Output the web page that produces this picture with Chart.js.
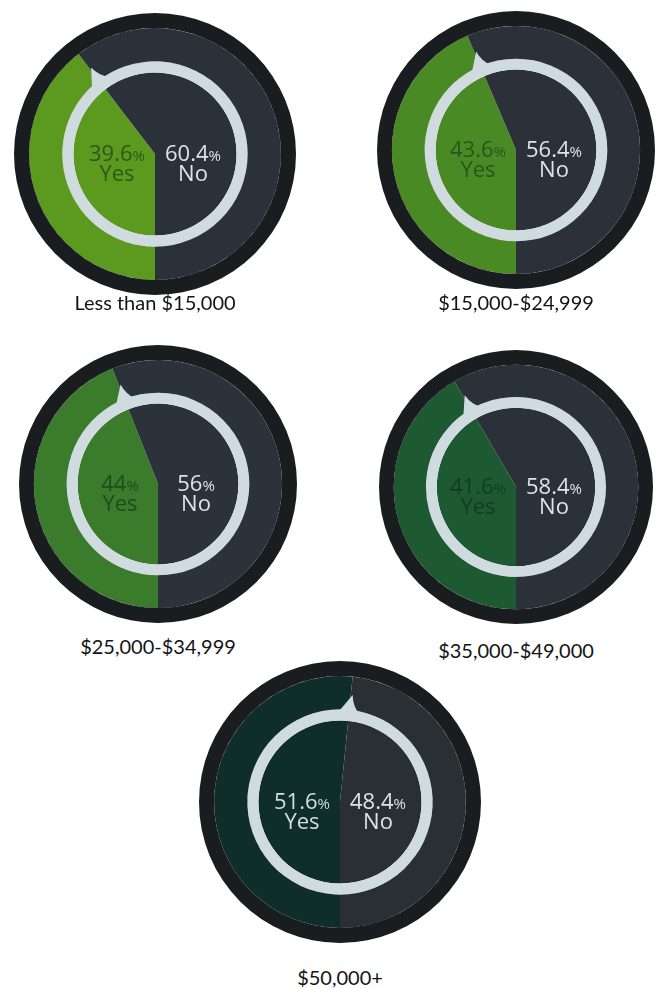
<!DOCTYPE html>
<html>
<head>
<meta charset="utf-8">
<script src="https://cdn.jsdelivr.net/npm/chart.js@4"></script>
<style>
  body { margin: 0; background: #fff; width: 663px; height: 988px; position: relative; overflow: hidden; }
  .pie { position: absolute; }
  .caption { position: absolute; width: 240px; margin-left: -120px; text-align: center;
             font-family: Lato, "Open Sans", sans-serif; font-size: 20px; color: #141414; line-height: 24px; }
</style>
</head>
<body>
<script>
// Survey answers by income bracket
const brackets = ['Less than $15,000', '$15,000-$24,999', '$25,000-$34,999', '$35,000-$49,000', '$50,000+'];
const yesShare = [39.6, 43.6, 44, 41.6, 51.6];
const noShare = [60.4, 56.4, 56, 58.4, 48.4];
const yesLabels = ['39.6', '43.6', '44', '41.6', '51.6'];
const noLabels = ['60.4', '56.4', '56', '58.4', '48.4'];

// each bracket gets its own shade of green
const yesColors = ['#5b9a1f', '#4a8a25', '#3a7c2c', '#1d5a32', '#0f2e29'];
const yesTextColors = ['#2b5a17', '#2a551b', '#1f4c1d', '#123d25', '#d3dcdf'];
const noColors = ['#2b3138', '#2c3139', '#2c3239', '#2a3138', '#2a2f33'];
const rimColor = '#1a1d1f';
const ringColor = '#cfdbdf';

// where each pie sits on the page: center x, center y, radius, caption y
const layout = [
  { x: 155, y: 154, r: 141, cap: 302 },
  { x: 516, y: 150, r: 139, cap: 302 },
  { x: 158, y: 484, r: 139, cap: 646 },
  { x: 516, y: 487, r: 137, cap: 650 },
  { x: 340, y: 802, r: 141, cap: 977 }
];

// arrow head on the white ring at the end of the Yes slice, plus the two labels
const centerText = {
  id: 'centerText',
  afterDatasetsDraw(chart, args, opts) {
    const ctx = chart.ctx;
    const yesArc = chart.getDatasetMeta(1).data[0];
    const ring = chart.getDatasetMeta(2).data[0];
    const cx = yesArc.x, cy = yesArc.y;
    const a = yesArc.endAngle;
    const ro = ring.outerRadius;
    const pt = (rad, ang) => [cx + rad * Math.cos(ang), cy + rad * Math.sin(ang)];
    const d = Math.PI / 180;

    ctx.save();
    ctx.fillStyle = ringColor;
    ctx.beginPath();
    let p = pt(ro - 3, a - 7 * d); ctx.moveTo(p[0], p[1]);
    p = pt(ro + 15, a + 1 * d); ctx.lineTo(p[0], p[1]);
    const c = pt(ro + 3, a + 2 * d);
    p = pt(ro - 3, a + 7 * d); ctx.quadraticCurveTo(c[0], c[1], p[0], p[1]);
    ctx.closePath();
    ctx.fill();

    ctx.textBaseline = 'middle';
    const drawPct = (value, x, y, color) => {
      ctx.font = '22px "Open Sans", sans-serif';
      const w1 = ctx.measureText(value).width;
      ctx.font = '15px "Open Sans", sans-serif';
      const w2 = ctx.measureText('%').width;
      const left = x - (w1 + w2) / 2;
      ctx.fillStyle = color;
      ctx.textAlign = 'left';
      ctx.font = '22px "Open Sans", sans-serif';
      ctx.fillText(value, left, y);
      ctx.font = '15px "Open Sans", sans-serif';
      ctx.fillText('%', left + w1, y + 2);
    };
    drawPct(opts.yes, cx - 38, cy + 1, opts.yesColor);
    drawPct(opts.no, cx + 38, cy + 1, '#dde3e6');
    ctx.font = '22px "Open Sans", sans-serif';
    ctx.textAlign = 'center';
    ctx.fillStyle = opts.yesColor;
    ctx.fillText('Yes', cx - 38, cy + 21);
    ctx.fillStyle = '#dde3e6';
    ctx.fillText('No', cx + 38, cy + 21);
    ctx.restore();
  }
};

brackets.forEach((name, i) => {
  const pos = layout[i];
  const canvas = document.createElement('canvas');
  canvas.className = 'pie';
  canvas.width = pos.r * 2;
  canvas.height = pos.r * 2;
  canvas.style.left = (pos.x - pos.r) + 'px';
  canvas.style.top = (pos.y - pos.r) + 'px';
  document.body.appendChild(canvas);

  const caption = document.createElement('div');
  caption.className = 'caption';
  caption.textContent = name;
  caption.style.left = pos.x + 'px';
  caption.style.top = (pos.cap - 12) + 'px';
  document.body.appendChild(caption);

  new Chart(canvas.getContext('2d'), {
    type: 'doughnut',
    data: {
      labels: ['Yes', 'No'],
      datasets: [
        { data: [100], backgroundColor: [rimColor], weight: 15 },
        { data: [yesShare[i], noShare[i]], backgroundColor: [yesColors[i], noColors[i]], weight: 33 },
        { data: [100], backgroundColor: [ringColor], weight: 11 },
        { data: [yesShare[i], noShare[i]], backgroundColor: [yesColors[i], noColors[i]], weight: 81 }
      ]
    },
    options: {
      responsive: false,
      devicePixelRatio: 1,
      animation: false,
      cutout: 0,
      rotation: 180,
      borderWidth: 0,
      hoverOffset: 0,
      layout: { padding: 0 },
      plugins: {
        legend: { display: false },
        tooltip: { enabled: false },
        centerText: { yes: yesLabels[i], no: noLabels[i], yesColor: yesTextColors[i] }
      }
    },
    plugins: [centerText]
  });
});
</script>
</body>
</html>
